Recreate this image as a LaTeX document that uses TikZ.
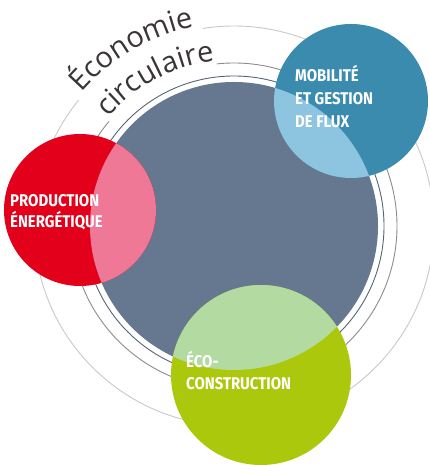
\documentclass[tikz,border=0pt]{standalone}
\usepackage{fontspec}
\usetikzlibrary{decorations.text}
\newfontfamily\labfont{Fira Sans}[FakeStretch=0.88]
\newfontfamily\arcfont{Open Sans}
\definecolor{slate}{HTML}{66788F}
\definecolor{redc}{HTML}{E3001B}
\definecolor{pinkc}{HTML}{EE7896}
\definecolor{bluec}{HTML}{3A8BAE}
\definecolor{lbluec}{HTML}{8DC4DF}
\definecolor{greenc}{HTML}{ABC80C}
\definecolor{lgreenc}{HTML}{B3DAA1}
\definecolor{ringdark}{HTML}{56647A}
\definecolor{ringmid}{HTML}{8C8C8C}
\definecolor{ringout}{HTML}{C8C8C8}
\definecolor{arctext}{HTML}{3A3535}
\tikzset{
  lab/.style={anchor=base west, inner sep=0pt, text=white, font=\labfont\bfseries\fontsize{17}{20}\selectfont},
  ring/.style={line width=0.9pt}
}
\begin{document}
\begin{tikzpicture}[x=1pt,y=1pt]
\useasboundingbox (0,0) rectangle (430,465);
\coordinate (C) at (234,239);
\coordinate (R) at (80,255);
\coordinate (B) at (351,364);
\coordinate (G) at (261,90);
% rings
\draw[ring, ringout] (C) ++(141:200pt) arc (141:459:200pt);
\draw[ring, ringmid] (C) ++(140:163pt) arc (140:456:163pt);
\draw[ring, ringdark] (C) circle[radius=150pt];
% main circle
\fill[slate] (C) circle[radius=144pt];
% coloured circles
\fill[redc] (R) circle[radius=76pt];
\fill[bluec] (B) circle[radius=77pt];
\fill[greenc] (G) circle[radius=90pt];
\begin{scope}
  \clip (C) circle[radius=144pt];
  \fill[pinkc] (R) circle[radius=76pt];
  \fill[lbluec] (B) circle[radius=77pt];
  \fill[lgreenc] (G) circle[radius=90pt];
\end{scope}
% curved titles
\path[decorate, decoration={text along path, text align=center,
  text={|\arcfont\fontsize{29}{29}\selectfont\color{arctext}|Économie}}]
  (C) ++(143:203pt) arc (143:97:203pt);
\path[decorate, decoration={text along path, text align=center,
  text={|\arcfont\fontsize{29}{29}\selectfont\color{arctext}|circulaire}}]
  (C) ++(143:166pt) arc (143:93:166pt);
% labels
\node[lab] (m1) at (295,383) {MOBILITÉ};
\node[lab] (m2) at (295,360) {ET GESTION};
\node[lab] (m3) at (295,337) {DE FLUX};
\node[lab] (p1) at (10,258) {PRODUCTION};
\node[lab] (p2) at (10,237) {ÉNERGÉTIQUE};
\node[lab] (e1) at (186,97) {ÉCO-};
\node[lab] (e2) at (186,75) {CONSTRUCTION};
\end{tikzpicture}
\end{document}
